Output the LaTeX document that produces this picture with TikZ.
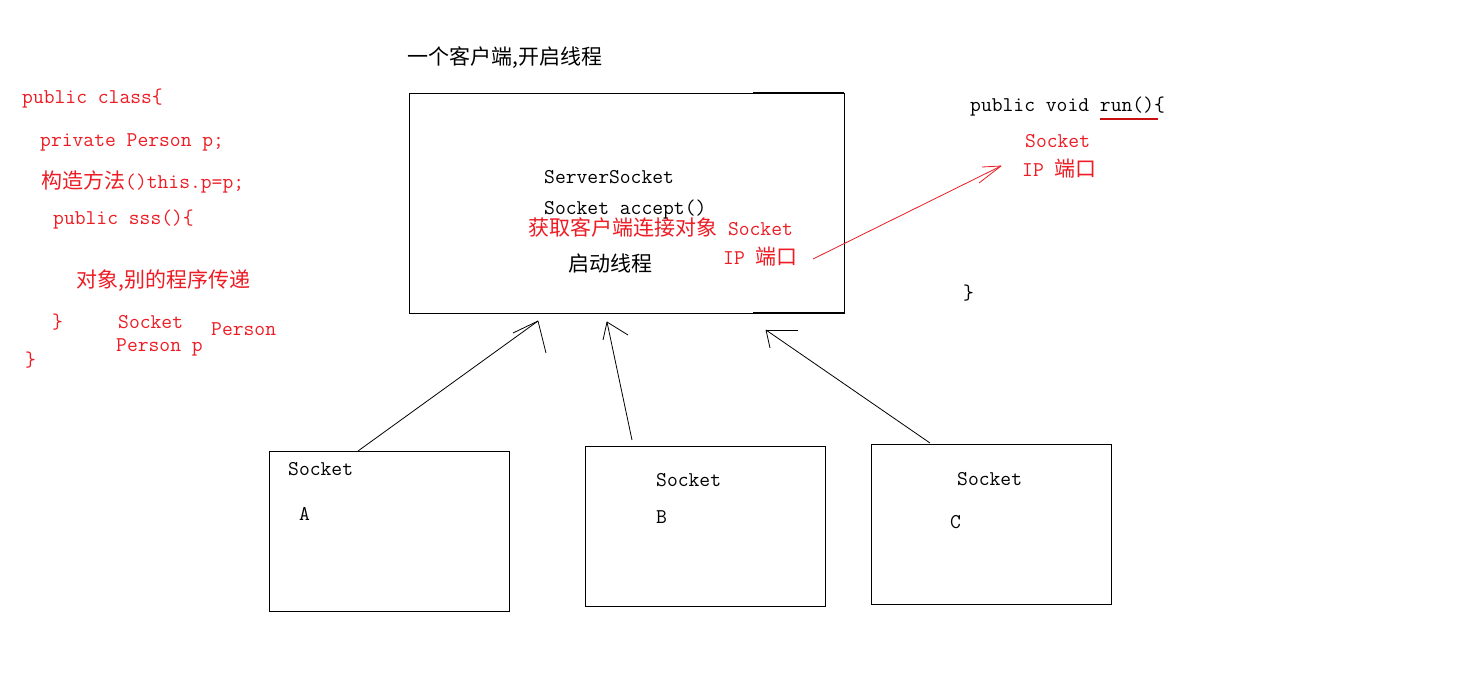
\documentclass[tikz,border=0pt]{standalone}
\usepackage{fontspec}
\newfontfamily\cjk{Noto Sans CJK SC}
\definecolor{pred}{RGB}{237,28,36}
\definecolor{ured}{RGB}{200,16,16}
\begin{document}
\begin{tikzpicture}[x=1pt,y=-1pt,
 txt/.style={anchor=west,inner sep=0pt,font=\fontsize{21}{21}\selectfont\ttfamily,text height=17pt,text depth=4pt},
 rtxt/.style={txt,text=pred},
 box/.style={draw,line width=1pt,anchor=north west,inner sep=0pt,outer sep=0pt},
 ln/.style={line width=0.8pt},
 rln/.style={line width=0.8pt,draw=pred}]
\useasboundingbox[fill=white] (0,0) rectangle (1462,694);

% title
\node[txt] (title) at (407,58) {{\cjk 一个客户端,开启线程}};

% server box
\node[box,minimum width=435pt,minimum height=220pt] (server) at (409,93) {};
\draw[line width=2pt] (753,93) -- (844,93);
\draw[line width=2pt] (753,313) -- (844,313);
\node[txt] (ss) at (544,177) {ServerSocket};
\node[txt] (acc) at (544,208) {Socket accept()};
\node[rtxt] (get) at (528,229) {{\cjk 获取客户端连接对象} Socket};
\node[rtxt] (ip1) at (723,258) {IP {\cjk 端口}};
\node[txt] (start) at (568,265) {{\cjk 启动线程}};

% left code
\node[rtxt] (l1) at (22,97) {public class\{};
\node[rtxt] (l2) at (40,140) {private Person p;};
\node[rtxt] (l3) at (41,182) {{\cjk 构造方法}()this.p=p;};
\node[rtxt] (l4) at (53,218) {public sss()\{};
\node[rtxt] (l5) at (76,281) {{\cjk 对象,别的程序传递}};
\node[rtxt] (l6) at (52,322) {\}};
\node[rtxt] (l7) at (118,322) {Socket};
\node[rtxt] (l8) at (116,345) {Person p};
\node[rtxt] (l9) at (211,329) {Person};
\node[rtxt] (l10) at (25,360) {\}};

% right code
\node[txt] (r1) at (970,105) {public void run()\{};
\draw[draw=ured,line width=2pt] (1100,119) -- (1158,119);
\node[rtxt] (r2) at (1025,141) {Socket};
\node[rtxt] (r3) at (1022,170) {IP {\cjk 端口}};
\node[txt] (r4) at (963,293) {\}};

% client boxes
\node[box,minimum width=240pt,minimum height=160pt] (A) at (269,451) {};
\node[box,minimum width=240pt,minimum height=160pt] (B) at (585,446) {};
\node[box,minimum width=240pt,minimum height=160pt] (C) at (871,444) {};
\node[txt] (sa) at (288,469) {Socket};
\node[txt] (la) at (299,514) {A};
\node[txt] (sb) at (656,480) {Socket};
\node[txt] (lb) at (656,517) {B};
\node[txt] (sc) at (957,479) {Socket};
\node[txt] (lc) at (950,522) {C};

% arrows
\coordinate (a0) at (358,451);
\coordinate (a1) at (538,321);
\draw[ln] (a0) -- (a1);
\draw[ln] (a1) -- (513,333);
\draw[ln] (a1) -- (546,353);

\coordinate (b0) at (632,440);
\coordinate (b1) at (607,322);
\draw[ln] (b0) -- (b1);
\draw[ln] (b1) -- (603,340);
\draw[ln] (b1) -- (628,335);

\coordinate (c0) at (930,443);
\coordinate (c1) at (766,330);
\draw[ln] (c0) -- (c1);
\draw[ln] (c1) -- (798,330);
\draw[ln] (c1) -- (770,348);

\coordinate (r0) at (813,259);
\coordinate (rt) at (1001,166);
\draw[rln] (r0) -- (rt);
\draw[rln] (rt) -- (982,167);
\draw[rln] (rt) -- (979,183);
\end{tikzpicture}
\end{document}
